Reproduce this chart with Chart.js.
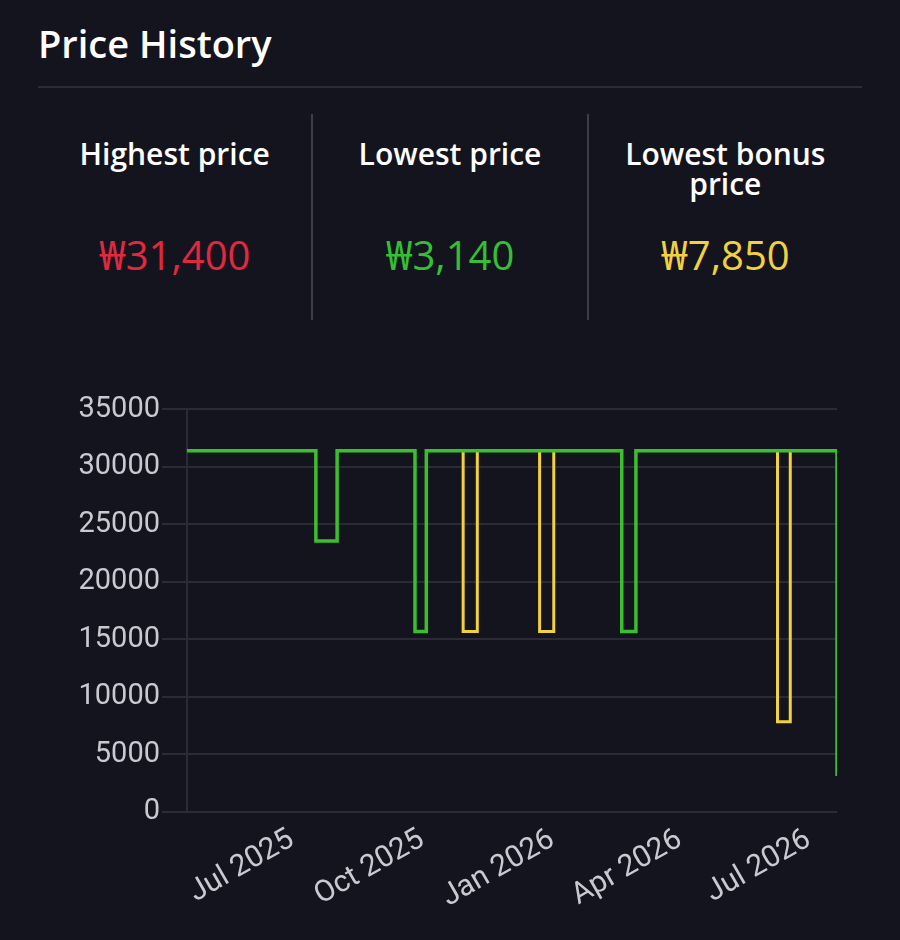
<!DOCTYPE html>
<html>
<head>
<meta charset="utf-8">
<script src="https://cdn.jsdelivr.net/npm/chart.js@4.4.1/dist/chart.umd.min.js"></script>
<style>
  html, body { margin: 0; padding: 0; }
  body {
    width: 900px; height: 940px; overflow: hidden; position: relative;
    background: #14141f; font-family: "Open Sans", "Noto Sans", sans-serif;
  }
  #titulo {
    position: absolute; left: 38px; top: 17px; margin: 0;
    color: #ffffff; font-size: 38px; font-weight: 600; line-height: 52px;
  }
  #linha {
    position: absolute; left: 38px; top: 86px; width: 824px; height: 2px; background: #2b2c37;
  }
  #resumo {
    position: absolute; left: 38px; top: 114px; width: 824px; height: 206px; display: flex;
  }
  .caixa { flex: 1; text-align: center; position: relative; }
  .caixa + .caixa { border-left: 2px solid #3d3e49; }
  .rotulo {
    position: absolute; left: 0; right: 0; top: 25px;
    color: #ffffff; font-size: 30px; font-weight: 600; line-height: 30px; padding: 0 36px;
  }
  .valor {
    position: absolute; left: 0; right: 0; top: 118px;
    font-size: 40px; line-height: 46px; font-weight: 400;
  }
  #grafico { position: absolute; left: 60px; top: 390px; width: 777px; height: 530px; }
</style>
</head>
<body>
  <h1 id="titulo">Price History</h1>
  <div id="linha"></div>
  <div id="resumo">
    <div class="caixa"><div class="rotulo">Highest price</div><div class="valor" style="color:#e2283f">₩31,400</div></div>
    <div class="caixa"><div class="rotulo">Lowest price</div><div class="valor" style="color:#35bf32">₩3,140</div></div>
    <div class="caixa"><div class="rotulo">Lowest bonus price</div><div class="valor" style="color:#f2d23c">₩7,850</div></div>
  </div>
  <div id="grafico"><canvas id="chart-preco"></canvas></div>

<script>
// regular price: each point is the date the price changed
const datasPreco = ["2025-04-18", "2025-07-18", "2025-08-02", "2025-09-26", "2025-10-04", "2026-02-19", "2026-03-01", "2026-07-21"];
const precos = [31400, 23550, 31400, 15700, 31400, 15700, 31400, 3140];

// bonus price events (null breaks the line between events)
const datasBonus = ["2025-10-30", "2025-10-30", "2025-11-09", "2025-11-10", "2025-12-23", "2025-12-23", "2026-01-02", "2026-01-03", "2026-06-09", "2026-06-09", "2026-06-18"];
const precosBonus = [31400, 15700, 31400, null, 31400, 15700, 31400, null, 31400, 7850, 31400];

// x axis ticks
const datasTicks = ["2025-07-01", "2025-10-01", "2026-01-01", "2026-04-01", "2026-07-01"];
const rotulosTicks = ["Jul 2025", "Oct 2025", "Jan 2026", "Apr 2026", "Jul 2026"];

const yTicks = [0, 5000, 10000, 15000, 20000, 25000, 30000, 35000];

function paraDia(d) {
  return Date.parse(d + "T00:00:00Z") / 86400000;
}

document.addEventListener("DOMContentLoaded", function () {
  const ctx = document.getElementById("chart-preco").getContext("2d");
  const corGrade = "#2a2b36";
  const corTexto = "#c8c9d1";

  new Chart(ctx, {
    type: "line",
    data: {
      datasets: [
        {
          label: "Price",
          data: datasPreco.map((d, i) => ({ x: paraDia(d), y: precos[i] })),
          borderColor: "#3bbf2e",
          borderWidth: 3.5,
          stepped: true,
          pointRadius: 0,
          fill: false,
          clip: 0,
        },
        {
          label: "Bonus price",
          data: datasBonus.map((d, i) => ({ x: paraDia(d), y: precosBonus[i] })),
          borderColor: "#f2d23c",
          borderWidth: 3,
          stepped: true,
          pointRadius: 0,
          fill: false,
          spanGaps: false,
        },
      ],
    },
    options: {
      responsive: true,
      maintainAspectRatio: false,
      animation: false,
      layout: { padding: { top: 5, right: 0, left: 0, bottom: 0 } },
      plugins: { legend: { display: false }, tooltip: { enabled: false } },
      scales: {
        x: {
          type: "linear",
          min: paraDia(datasPreco[0]),
          max: paraDia(datasPreco[datasPreco.length - 1]),
          grid: { display: false, drawTicks: false },
          border: { display: false },
          afterBuildTicks: (scale) => {
            scale.ticks = datasTicks.map((d) => ({ value: paraDia(d) }));
          },
          afterFit: (scale) => { scale.height = 108; },
          ticks: {
            autoSkip: false,
            minRotation: 30,
            maxRotation: 30,
            padding: 10,
            color: corTexto,
            font: { family: "Roboto", size: 30 },
            callback: (value) => {
              const i = datasTicks.findIndex((d) => paraDia(d) === value);
              return i >= 0 ? rotulosTicks[i] : "";
            },
          },
        },
        y: {
          min: 0,
          max: 35000,
          afterBuildTicks: (scale) => {
            scale.ticks = yTicks.map((v) => ({ value: v }));
          },
          afterFit: (scale) => { scale.width = 127; },
          grid: { color: corGrade, lineWidth: 2, tickLength: 25 },
          border: { display: true, color: corGrade, width: 2 },
          ticks: {
            padding: 2,
            color: corTexto,
            font: { family: "Roboto", size: 29 },
            callback: (value) => String(value),
          },
        },
      },
    },
  });
});
</script>
</body>
</html>
